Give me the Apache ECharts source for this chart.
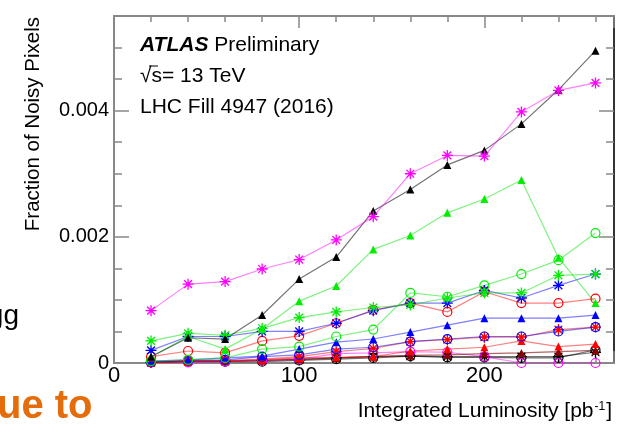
<!DOCTYPE html>
<html>
<head>
<meta charset="utf-8">
<script src="https://cdn.jsdelivr.net/npm/echarts@6/dist/echarts.min.js"></script>
<style>
html,body{margin:0;padding:0;background:#fff;}
#c{width:625px;height:425px;}
</style>
</head>
<body>
<div id="c"></div>
<script>
// ---- data ----
var lumi = [20, 40, 60, 80, 100, 120, 140, 160, 180, 200, 220, 240, 260];
var xTickLabels = ['0', '100', '200'];
var yTickLabels = ['0', '0.002', '0.004'];

var magentaStar = [0.00083, 0.00125, 0.00129, 0.00149, 0.00164, 0.00195, 0.00232, 0.00300, 0.00329, 0.00328, 0.00398, 0.00432, 0.00444];
var blackTri    = [0.00010, 0.00040, 0.00038, 0.00076, 0.00133, 0.00168, 0.00241, 0.00275, 0.00314, 0.00337, 0.00379, 0.00433, 0.00495];
var greenTri    = [0.00010, 0.00042, 0.00022, 0.00054, 0.00098, 0.00122, 0.00180, 0.00202, 0.00238, 0.00260, 0.00290, 0.00167, 0.00095];
var greenStar   = [0.00035, 0.00047, 0.00044, 0.00055, 0.00072, 0.00081, 0.00088, 0.00092, 0.00103, 0.00111, 0.00111, 0.00139, 0.00141];
var greenCirc   = [0.00003, 0.00005, 0.00008, 0.00022, 0.00026, 0.00042, 0.00053, 0.00111, 0.00105, 0.00123, 0.00141, 0.00163, 0.00206];
var blueStar    = [0.00020, 0.00042, 0.00042, 0.00050, 0.00050, 0.00063, 0.00083, 0.00095, 0.00095, 0.00115, 0.00103, 0.00123, 0.00141];
var redCirc     = [0.00010, 0.00019, 0.00016, 0.00035, 0.00043, 0.00063, 0.00084, 0.00095, 0.00081, 0.00113, 0.00095, 0.00095, 0.00102];
var blueTri     = [0.00003, 0.00005, 0.00008, 0.00011, 0.00022, 0.00033, 0.00038, 0.00049, 0.00060, 0.00071, 0.00071, 0.00071, 0.00076];
var blueCirc    = [0.00002, 0.00004, 0.00005, 0.00010, 0.00013, 0.00022, 0.00025, 0.00034, 0.00038, 0.00042, 0.00042, 0.00050, 0.00057];
var redStar     = [0.00001, 0.00003, 0.00004, 0.00006, 0.00010, 0.00018, 0.00023, 0.00034, 0.00037, 0.00041, 0.00041, 0.00053, 0.00057];
var redTri      = [0.00001, 0.00002, 0.00003, 0.00005, 0.00008, 0.00009, 0.00010, 0.00019, 0.00022, 0.00025, 0.00035, 0.00026, 0.00030];
var darkRedTri  = [0.00001, 0.00003, 0.00003, 0.00004, 0.00006, 0.00008, 0.00010, 0.00012, 0.00013, 0.00015, 0.00016, 0.00018, 0.00020];
var magentaCirc = [0.00001, 0.00001, 0.00002, 0.00004, 0.00006, 0.00015, 0.00016, 0.00018, 0.00017, 0.00010, 0.00000, 0.00000, 0.00000];
var blackStar   = [0.00001, 0.00003, 0.00003, 0.00004, 0.00005, 0.00008, 0.00010, 0.00011, 0.00010, 0.00010, 0.00010, 0.00010, 0.00017];
var blackCirc   = [0.00001, 0.00002, 0.00002, 0.00002, 0.00004, 0.00006, 0.00008, 0.00011, 0.00009, 0.00009, 0.00008, 0.00008, 0.00021];

// ---- rendering ----
var FONT = "'Liberation Sans', Arial, Helvetica, sans-serif";
var STAR = 'path://M0,-10L0,10M-10,0L10,0M-7.07,-7.07L7.07,7.07M-7.07,7.07L7.07,-7.07';
var FRAME = '#888888';

function pair(vals) { return lumi.map(function (x, i) { return [x, vals[i]]; }); }

function mk(name, vals, marker, mColor, lColor) {
  var s = {
    name: name, type: 'line', data: pair(vals), xAxisIndex: 0, yAxisIndex: 0,
    showAllSymbol: true, animation: false, silent: true,
    lineStyle: { color: lColor, width: 1.2 },
    emphasis: { disabled: true }
  };
  if (marker === 'star') {
    s.symbol = STAR; s.symbolSize = 11;
    s.itemStyle = { color: 'none', borderColor: mColor, borderWidth: 1.3 };
  } else if (marker === 'circ') {
    s.symbol = 'circle'; s.symbolSize = 9;
    s.itemStyle = { color: 'none', borderColor: mColor, borderWidth: 1.2 };
  } else {
    s.symbol = 'triangle'; s.symbolSize = 8;
    s.itemStyle = { color: mColor, borderWidth: 0 };
  }
  return s;
}

var MAG = '#ff00ff', MAGL = 'rgba(255,0,255,0.5)';
var BLK = '#000000', BLKL = 'rgba(0,0,0,0.55)';
var GRN = '#00ee00', GRNL = 'rgba(0,230,0,0.5)';
var BLU = '#0000ff', BLUL = 'rgba(0,0,255,0.5)';
var RED = '#ff0000', REDL = 'rgba(255,0,0,0.5)';
var DRD = '#880000', DRDL = 'rgba(128,0,0,0.6)';

var series = [
  mk('blackCirc', blackCirc, 'circ', BLK, BLKL),
  mk('blackStar', blackStar, 'star', BLK, BLKL),
  mk('magentaCirc', magentaCirc, 'circ', MAG, MAGL),
  mk('darkRedTri', darkRedTri, 'tri', DRD, DRDL),
  mk('redTri', redTri, 'tri', RED, REDL),
  mk('redStar', redStar, 'star', RED, REDL),
  mk('blueCirc', blueCirc, 'circ', BLU, BLUL),
  mk('blueTri', blueTri, 'tri', BLU, BLUL),
  mk('redCirc', redCirc, 'circ', RED, REDL),
  mk('blueStar', blueStar, 'star', BLU, BLUL),
  mk('greenCirc', greenCirc, 'circ', GRN, GRNL),
  mk('greenStar', greenStar, 'star', GRN, GRNL),
  mk('greenTri', greenTri, 'tri', GRN, GRNL),
  mk('blackTri', blackTri, 'tri', BLK, BLKL),
  mk('magentaStar', magentaStar, 'star', MAG, MAGL)
];

var XMAX = 270, YMAX = 0.0055;

function xAx(pos, interval, tickLen, labels, lineColor) {
  return {
    type: 'value', position: pos, min: 0, max: XMAX, interval: interval,
    axisLine: { show: true, onZero: false, lineStyle: { color: lineColor, width: 2 } },
    axisTick: { show: true, inside: true, length: tickLen, lineStyle: { color: FRAME, width: 1.5 } },
    splitLine: { show: false },
    axisLabel: labels ? {
      show: true, fontSize: 22, fontFamily: FONT, color: '#000', margin: 2,
      formatter: function (v) { var i = xTickLabels.indexOf(String(v)); return i >= 0 ? xTickLabels[i] : ''; }
    } : { show: false }
  };
}
function yAx(pos, interval, tickLen, labels, lineColor) {
  return {
    type: 'value', position: pos, min: 0, max: YMAX, interval: interval,
    axisLine: { show: true, onZero: false, lineStyle: { color: lineColor, width: 2 } },
    axisTick: { show: true, inside: true, length: tickLen, lineStyle: { color: FRAME, width: 1.5 } },
    splitLine: { show: false },
    axisLabel: labels ? {
      show: true, fontSize: 20, fontFamily: FONT, color: '#000', margin: 5,
      formatter: function (v) {
        var s = v === 0 ? '0' : (+v.toFixed(4)).toString();
        return yTickLabels.indexOf(s) >= 0 ? s : '';
      }
    } : { show: false }
  };
}

var chart = echarts.init(document.getElementById('c'), null, { renderer: 'canvas' });
chart.setOption({
  animation: false,
  backgroundColor: '#ffffff',
  grid: { left: 114, right: 11, top: 16, bottom: 62, containLabel: false },
  xAxis: [
    xAx('bottom', 20, 6, false, FRAME),
    xAx('bottom', 100, 12, true, FRAME),
    xAx('top', 20, 6, false, FRAME),
    xAx('top', 100, 12, false, FRAME)
  ],
  yAxis: [
    yAx('left', 0.0005, 8, false, FRAME),
    yAx('left', 0.002, 15, true, FRAME),
    yAx('right', 0.0005, 8, false, '#333333'),
    yAx('right', 0.002, 15, false, '#333333')
  ],
  series: series,
  graphic: [
    { type: 'text', x: 33, y: 17, rotation: Math.PI / 2, silent: true,
      style: { text: 'Fraction of Noisy Pixels', font: '20.5px ' + FONT, fill: '#000', align: 'right', verticalAlign: 'middle' } },
    { type: 'text', x: 612, y: 411, silent: true,
      style: { text: 'Integrated Luminosity [pb{s|-1}]', font: '21px ' + FONT, fill: '#000', align: 'right', verticalAlign: 'middle',
        rich: { s: { fontSize: 12, fontFamily: FONT, verticalAlign: 'top', padding: [0, 1, 8, 1] } } } },
    { type: 'text', x: 140, y: 45, silent: true,
      style: { text: '{a|ATLAS} Preliminary', font: '21px ' + FONT, fill: '#000', align: 'left', verticalAlign: 'middle',
        rich: { a: { fontSize: 21, fontFamily: FONT, fontWeight: 'bold', fontStyle: 'italic' } } } },
    { type: 'text', x: 140, y: 76, silent: true,
      style: { text: '√s= 13 TeV', font: '21px ' + FONT, fill: '#000', align: 'left', verticalAlign: 'middle' } },
    { type: 'line', silent: true, shape: { x1: 149, y1: 66, x2: 158, y2: 66 }, style: { stroke: '#000', lineWidth: 1 } },
    { type: 'text', x: 140, y: 107, silent: true,
      style: { text: 'LHC Fill 4947 (2016)', font: '21px ' + FONT, fill: '#000', align: 'left', verticalAlign: 'middle' } },
    { type: 'text', x: 19, y: 316, silent: true,
      style: { text: 'gg', font: '28px ' + FONT, fill: '#000', align: 'right', verticalAlign: 'middle' } },
    { type: 'text', x: -3, y: 407, silent: true,
      style: { text: 'ue to', font: 'bold 40px ' + FONT, fill: '#e46c0a', align: 'left', verticalAlign: 'middle' } }
  ]
});
</script>
</body>
</html>
